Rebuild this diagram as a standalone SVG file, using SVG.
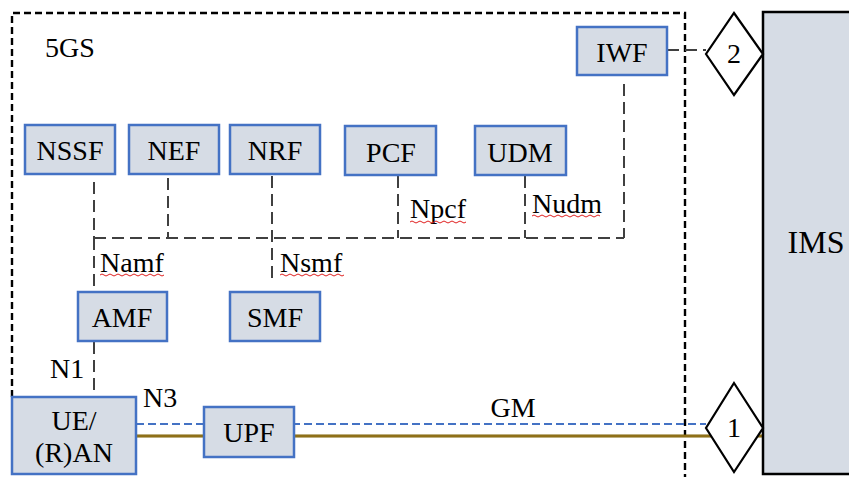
<svg xmlns="http://www.w3.org/2000/svg" width="849" height="477" viewBox="0 0 849 477">
<style>
.box{fill:#D6DCE5;stroke:#4472C4;stroke-width:2.5}
.t{font-family:'Liberation Serif','Times New Roman',serif;font-size:28px;fill:#000}
.c{text-anchor:middle}
.gd{fill:none;stroke:#404040;stroke-width:2;stroke-dasharray:12 6}
.sq{fill:none;stroke:#E02020;stroke-width:1}
</style>
<rect width="849" height="477" fill="#fff"/>
<g id="boundary">
<path d="M12,397 V13 H685 V477" fill="none" stroke="#000" stroke-width="2.4" stroke-dasharray="7 4"/>
<text class="t" x="45" y="57">5GS</text>
</g>
<g id="connectors">
<path class="gd" d="M94,182 V238 M168,178 V238 M272,176 V283 M398,176 V238 M525,176 V238 M624,84 V238 M94,238 H624 M94,238 V292 M94,342 V397 M667,50 H706"/>
<line x1="136" y1="436" x2="763" y2="436" stroke="#7F6000" stroke-width="3"/>
<line x1="136" y1="436" x2="763" y2="436" stroke="#A08030" stroke-width="1"/>
<line x1="136" y1="424" x2="706" y2="424" stroke="#4472C4" stroke-width="2" stroke-dasharray="8 4"/>
<text class="t" x="410" y="218">Npcf</text>
<path class="sq" d="M410,222 q2,-2 4,0 t4,0 t4,0 t4,0 t4,0 t4,0 t4,0 t4,0 t4,0 t4,0 t4,0 t4,0 t4,0 t4,0"/>
<text class="t" x="532" y="213">Nudm</text>
<path class="sq" d="M532,216 q2,-2 4,0 t4,0 t4,0 t4,0 t4,0 t4,0 t4,0 t4,0 t4,0 t4,0 t4,0 t4,0 t4,0 t4,0 t4,0 t4,0 t4,0"/>
<text class="t" x="100" y="272">Namf</text>
<path class="sq" d="M100,275 q2,-2 4,0 t4,0 t4,0 t4,0 t4,0 t4,0 t4,0 t4,0 t4,0 t4,0 t4,0 t4,0 t4,0 t4,0 t4,0 t4,0"/>
<text class="t" x="280" y="272">Nsmf</text>
<path class="sq" d="M280,275 q2,-2 4,0 t4,0 t4,0 t4,0 t4,0 t4,0 t4,0 t4,0 t4,0 t4,0 t4,0 t4,0 t4,0 t4,0 t4,0 t4,0"/>
<text class="t" x="50" y="378">N1</text>
<text class="t" x="143" y="407">N3</text>
<text class="t c" x="513" y="417">GM</text>
</g>
<g id="NSSF"><rect class="box" x="25" y="125" width="90" height="49"/><text class="t c" x="70" y="160">NSSF</text></g>
<g id="NEF"><rect class="box" x="129" y="125" width="90" height="49"/><text class="t c" x="174" y="160">NEF</text></g>
<g id="NRF"><rect class="box" x="230" y="125" width="90" height="49"/><text class="t c" x="275" y="160">NRF</text></g>
<g id="PCF"><rect class="box" x="345" y="126" width="91" height="49"/><text class="t c" x="391" y="162">PCF</text></g>
<g id="UDM"><rect class="box" x="475" y="126" width="91" height="49"/><text class="t c" x="520" y="162">UDM</text></g>
<g id="IWF"><rect class="box" x="577" y="27" width="90" height="48"/><text class="t c" x="622" y="62">IWF</text></g>
<g id="AMF"><rect class="box" x="78" y="292" width="89" height="49"/><text class="t c" x="122" y="327">AMF</text></g>
<g id="SMF"><rect class="box" x="230" y="292" width="90" height="49"/><text class="t c" x="275" y="327">SMF</text></g>
<g id="UE"><rect class="box" x="12" y="397" width="124" height="77"/><text class="t c" x="74" y="430">UE/</text><text class="t c" x="74" y="462">(R)AN</text></g>
<g id="UPF"><rect class="box" x="204" y="407" width="90" height="50"/><text class="t c" x="249" y="442">UPF</text></g>
<g id="IMS"><rect x="763" y="12" width="92" height="462" fill="#D6DCE5" stroke="#000" stroke-width="2.5"/><text class="t c" x="816" y="253" style="font-size:32px">IMS</text></g>
<g id="ref2"><polygon points="734,13 763,54 734,95 706,54" fill="#fff" stroke="#000" stroke-width="2.2"/><text class="t c" x="734" y="63">2</text></g>
<g id="ref1"><polygon points="734,383 763,428 734,472 706,428" fill="#fff" stroke="#000" stroke-width="2.2"/><text class="t c" x="734" y="437">1</text></g>
</svg>
